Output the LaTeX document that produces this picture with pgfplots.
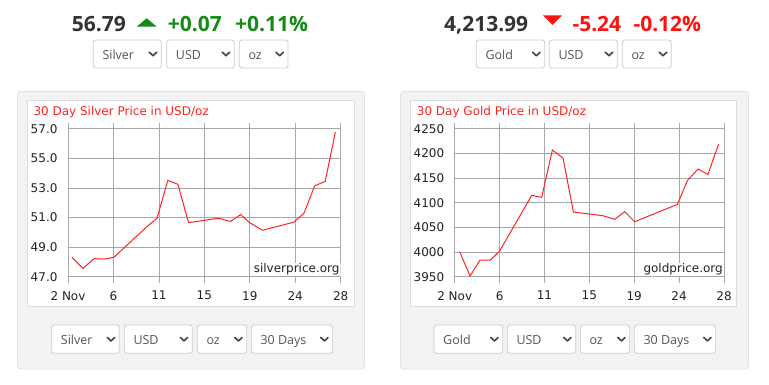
\documentclass[border=0pt]{standalone}
\usepackage{pgfplots}
\pgfplotsset{compat=1.18}
\usepackage{fontspec}
\setmainfont{Open Sans}
\newfontfamily\dejavu{DejaVu Sans}
\definecolor{panelbg}{HTML}{F3F3F3}
\definecolor{panelborder}{HTML}{E2E2E2}
\definecolor{boxborder}{HTML}{DDDDDD}
\definecolor{ddborder}{HTML}{CCCCCC}
\definecolor{ddtext}{HTML}{555555}
\definecolor{chev}{HTML}{444444}
\definecolor{upgreen}{HTML}{168A16}
\definecolor{downred}{HTML}{FF1111}
\definecolor{darktext}{HTML}{333333}
\definecolor{titlered}{HTML}{FF2222}
\definecolor{gridgray}{HTML}{A8A8A8}
\definecolor{linered}{HTML}{FF2424}
\definecolor{labelgray}{HTML}{222222}

\pgfplotstableread{
day price
2.38 48.31
3.43 47.56
4.47 48.22
5.46 48.19
6.38 48.31
9.52 50.38
10.48 50.94
11.52 53.51
12.48 53.24
13.49 50.65
16.34 50.95
17.50 50.73
18.46 51.20
19.36 50.63
20.55 50.14
23.52 50.68
24.50 51.29
25.52 53.14
26.52 53.44
27.49 56.76
}\silverdata

\pgfplotstableread{
day price
2.48 4000.7
3.48 3951.4
4.45 3983.8
5.44 3983.8
6.32 4001.4
9.44 4114.9
10.40 4110.8
11.43 4206.8
12.46 4190.5
13.46 4081.1
16.32 4073.6
17.45 4066.2
18.41 4081.8
19.38 4061.5
23.50 4096.6
24.46 4144.6
25.49 4168.2
26.45 4157.4
27.48 4218.9
}\golddata

\newcommand{\dd}[5]{%
  \draw[ddborder, fill=white, rounded corners=2.5pt, line width=0.8pt] (#1,#2) rectangle (#3,#4);
  \node[anchor=base west, inner sep=0, text=ddtext, font=\fontsize{12.5}{14}\selectfont] at ({#1+9},{(#2+#4)/2+5.5}) {#5};
  \draw[chev, line width=1.6pt, line cap=round, line join=round] ({#3-12},{(#2+#4)/2-1.8}) -- ({#3-8.3},{(#2+#4)/2+1.8}) -- ({#3-4.6},{(#2+#4)/2-1.8});
}

\pgfplotsset{chartstyle/.style={
  scale only axis, anchor=south west,
  xmin=2, xmax=28,
  axis line style={gridgray, line width=0.7pt},
  grid=major, major grid style={gridgray, line width=0.7pt},
  xtick={2,6.33333,10.66667,15,19.33333,23.66667,28},
  xticklabels={2 Nov,6,11,15,19,24,28},
  tick align=outside, major tick length=6pt,
  xtick style={gridgray, line width=0.7pt},
  ytick style={draw=none},
  ticklabel style={font=\dejavu\fontsize{12}{14}\selectfont, text=labelgray},
  /pgf/number format/assume math mode=true,
  yticklabel style={xshift=-1pt},
  xticklabel style={yshift=-5pt},
}}

\begin{document}
\begin{tikzpicture}
\begin{scope}[x=1pt,y=-1pt,yshift=385pt]
\useasboundingbox (0,0) rectangle (769,385);
\fill[white] (0,0) rectangle (769,385);
% panels
\draw[panelborder, fill=panelbg, rounded corners=3pt, line width=0.8pt] (17.5,91.5) rectangle (364.5,369);
\draw[boxborder, fill=white, line width=0.8pt] (27.3,100.7) rectangle (354,306.7);
\draw[panelborder, fill=panelbg, rounded corners=3pt, line width=0.8pt] (400.5,91.5) rectangle (748.5,369);
\draw[boxborder, fill=white, line width=0.8pt] (410.7,100.7) rectangle (736.7,306.7);
% titles
\node[anchor=base west, inner sep=0, text=titlered, font=\dejavu\fontsize{12}{14}\selectfont] at (33.3,116) {30 Day Silver Price in USD/oz};
\node[anchor=base west, inner sep=0, text=titlered, font=\dejavu\fontsize{12}{14}\selectfont] at (416.7,116) {30 Day Gold Price in USD/oz};
% headers
\node[anchor=base west, inner sep=0, text=darktext, font=\bfseries\fontsize{21}{24}\selectfont] at (71.7,31.7) {56.79};
\fill[upgreen] (136.7,26.7) -- (146.7,18.3) -- (156.7,26.7) -- cycle;
\node[anchor=base west, inner sep=0, text=upgreen, font=\bfseries\fontsize{21}{24}\selectfont] at (167.7,31.7) {+0.07};
\node[anchor=base west, inner sep=0, text=upgreen, font=\bfseries\fontsize{21}{24}\selectfont] at (235,31.7) {+0.11\%};
\node[anchor=base west, inner sep=0, text=darktext, font=\bfseries\fontsize{21}{24}\selectfont] at (444,31.7) {4,213.99};
\fill[downred] (543,15.5) -- (562,15.5) -- (552.5,25) -- cycle;
\node[anchor=base west, inner sep=0, text=downred, font=\bfseries\fontsize{21}{24}\selectfont] at (572.3,31.7) {-5.24};
\node[anchor=base west, inner sep=0, text=downred, font=\bfseries\fontsize{21}{24}\selectfont] at (633.3,31.7) {-0.12\%};
% top dropdowns
\dd{93.3}{40}{161.3}{68}{Silver}
\dd{166.7}{40}{234.3}{68}{USD}
\dd{239.3}{40}{288}{68}{oz}
\dd{476.3}{40}{544.7}{68}{Gold}
\dd{549.3}{40}{617.3}{68}{USD}
\dd{622.3}{40}{671.3}{68}{oz}
% bottom dropdowns
\dd{51.7}{325}{119.3}{353.3}{Silver}
\dd{124.3}{325}{192.3}{353.3}{USD}
\dd{197.3}{325}{246.7}{353.3}{oz}
\dd{251.3}{325}{332.7}{353.3}{30 Days}
\dd{434}{325}{502.7}{353.3}{Gold}
\dd{507.3}{325}{575.7}{353.3}{USD}
\dd{580.3}{325}{629.7}{353.3}{oz}
\dd{634.3}{325}{715.7}{353.3}{30 Days}
\coordinate (S) at (68,276.7);
\coordinate (G) at (454.7,276.7);
\end{scope}

\begin{axis}[chartstyle, at={(S)}, width=272.7pt, height=148pt,
  ymin=47, ymax=57, ytick={47,49,51,53,55,57},
  yticklabels={47.0,49.0,51.0,53.0,55.0,57.0}]
\addplot[linered, line width=1pt] table[x=day, y=price] {\silverdata};
\node[anchor=base east, inner sep=1pt, fill=white, text=labelgray, font=\dejavu\fontsize{12}{14}\selectfont] at (rel axis cs:1,0) [yshift=3.8pt] {silverprice.org};
\end{axis}

\begin{axis}[chartstyle, at={(G)}, width=269.3pt, height=148pt,
  ymin=3950, ymax=4250, ytick={3950,4000,...,4250},
  yticklabel={\pgfmathprintnumber[fixed, precision=0, set thousands separator={}]{\tick}}]
\addplot[linered, line width=1pt] table[x=day, y=price] {\golddata};
\node[anchor=base east, inner sep=1pt, fill=white, text=labelgray, font=\dejavu\fontsize{12}{14}\selectfont] at (rel axis cs:1,0) [yshift=3.8pt] {goldprice.org};
\end{axis}
\end{tikzpicture}
\end{document}
